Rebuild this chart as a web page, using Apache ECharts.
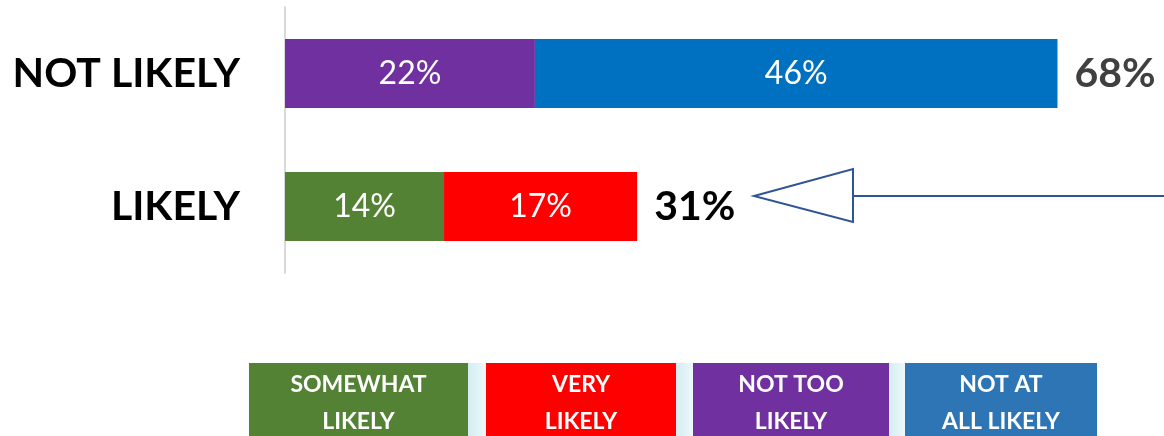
<!DOCTYPE html>
<html>
<head>
<meta charset="utf-8">
<script src="https://cdn.jsdelivr.net/npm/echarts@6/dist/echarts.min.js"></script>
<style>
	html, body { margin: 0; padding: 0; background: #fff; }
	#main { width: 1164px; height: 436px; }
</style>
</head>
<body>
<div id="main"></div>
<script>
	// data
	const categories = ['NOT LIKELY', 'LIKELY'];
	const somewhatLikely = [null, 14];
	const veryLikely = [null, 17];
	const notTooLikely = [22, null];
	const notAtAllLikely = [46, null];
	const totals = [68, 31];
	const legendNames = ['SOMEWHAT\nLIKELY', 'VERY\nLIKELY', 'NOT TOO\nLIKELY', 'NOT AT\nALL LIKELY'];

	const font = 'Lato, "Open Sans", sans-serif';

	let myChart = echarts.init(document.getElementById('main'));

	function part(name, data, color) {
		return {
			name: name,
			type: 'bar',
			stack: 'all',
			data: data,
			barWidth: 69,
			barGap: '-100%',
			z: 3,
			itemStyle: { color: color },
			label: {
				show: true,
				position: 'inside',
				color: '#fff',
				fontFamily: font,
				fontSize: 32,
				formatter: p => p.value + '%'
			}
		};
	}

	// legend boxes drawn by hand (filled blocks with text inside)
	const legendColors = ['#548235', '#FF0000', '#7030A0', '#2E75B6'];
	const legendBoxes = [[249, 468], [486, 676], [693, 889], [905, 1097]];
	let graphics = [];
	legendBoxes.forEach((b, i) => {
		if (i < legendBoxes.length - 1) {
			graphics.push({
				type: 'rect',
				shape: { x: b[1], y: 363, width: legendBoxes[i + 1][0] - b[1], height: 80 },
				style: {
					fill: new echarts.graphic.LinearGradient(0, 0, 1, 0, [
						{ offset: 0, color: '#D3EDF2' },
						{ offset: 1, color: '#EEF8FA' }
					])
				}
			});
		}
		graphics.push({
			type: 'rect',
			shape: { x: b[0], y: 363, width: b[1] - b[0], height: 80 },
			style: { fill: legendColors[i] }
		});
		graphics.push({
			type: 'text',
			x: (b[0] + b[1]) / 2,
			y: 403,
			style: {
				text: legendNames[i],
				fill: '#fff',
				font: 'bold 23px ' + font,
				align: 'center',
				verticalAlign: 'middle',
				lineHeight: 37
			}
		});
	});

	// arrow pointing at the LIKELY total
	graphics.push({
		type: 'line',
		shape: { x1: 853, y1: 196, x2: 1164, y2: 196 },
		style: { stroke: '#2F5597', lineWidth: 2 }
	});
	graphics.push({
		type: 'polygon',
		shape: { points: [[754, 196], [853, 169], [853, 222]] },
		style: { fill: '#fff', stroke: '#2F5597', lineWidth: 2 }
	});

	myChart.setOption({
		animation: false,
		grid: { left: 285, right: 27, top: 7, bottom: 163 },
		xAxis: {
			type: 'value',
			min: 0,
			max: 75,
			show: false
		},
		yAxis: {
			type: 'category',
			inverse: true,
			data: categories,
			axisLine: { lineStyle: { color: '#D9D9D9', width: 2 } },
			axisTick: { show: false },
			axisLabel: {
				color: '#000',
				fontFamily: font,
				fontWeight: 'bold',
				fontSize: 41,
				margin: 45
			}
		},
		series: [
			part('SOMEWHAT LIKELY', somewhatLikely, '#548235'),
			part('VERY LIKELY', veryLikely, '#FF0000'),
			part('NOT TOO LIKELY', notTooLikely, '#7030A0'),
			part('NOT AT ALL LIKELY', notAtAllLikely, '#0070C0'),
			{
				name: 'total',
				type: 'bar',
				data: totals.map((v, i) => ({
					value: v,
					label: { color: i === 0 ? '#404040' : '#000', fontSize: i === 0 ? 41 : 41 }
				})),
				barWidth: 69,
				barGap: '-100%',
				z: 1,
				silent: true,
				itemStyle: { color: 'rgba(0,0,0,0)' },
				label: {
					show: true,
					position: 'right',
					distance: 17,
					fontFamily: font,
					fontWeight: 'bold',
					formatter: p => p.value + '%'
				}
			}
		],
		graphic: graphics
	});
</script>
</body>
</html>
